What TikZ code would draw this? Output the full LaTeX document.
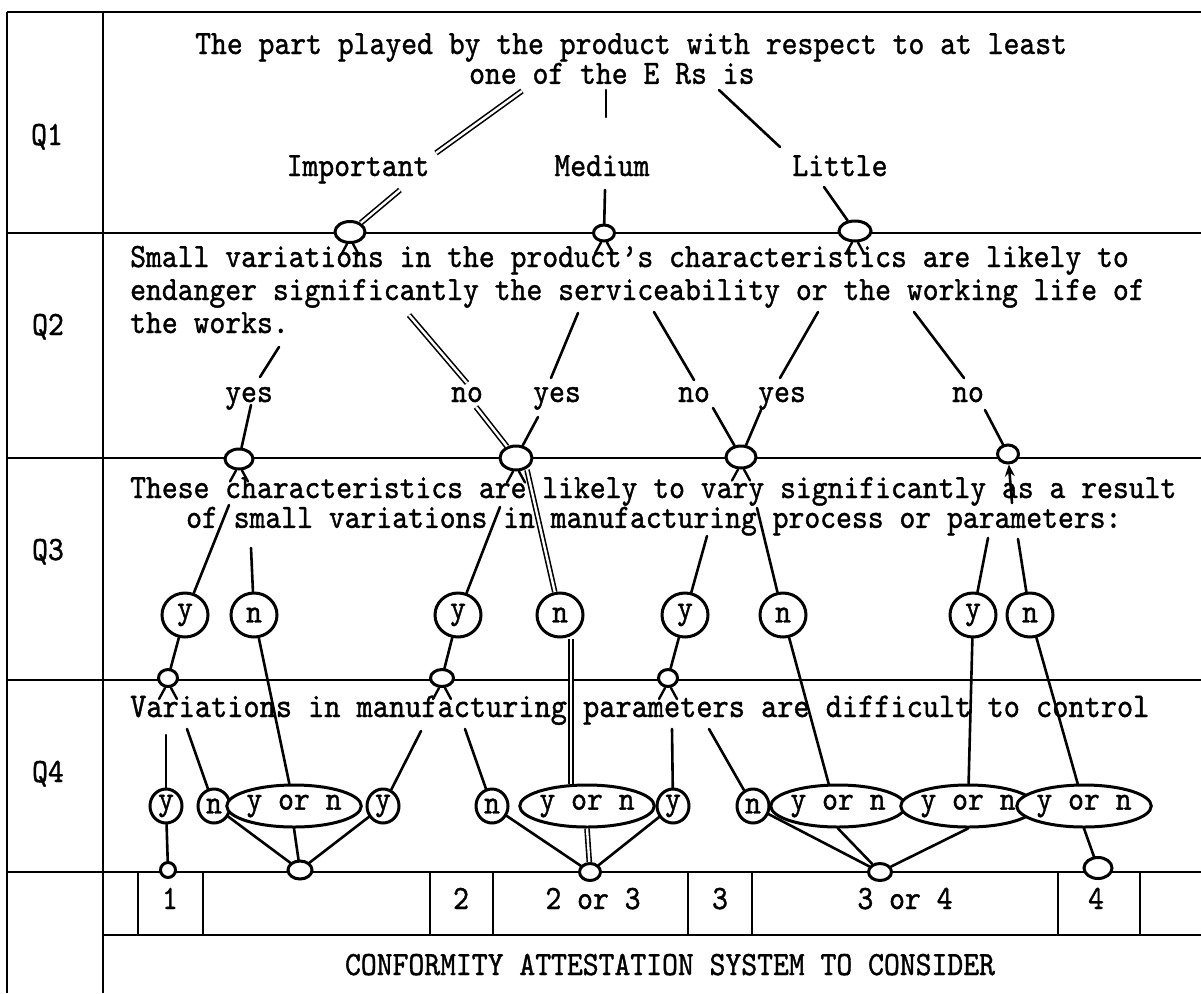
\documentclass[tikz,border=0pt]{standalone}
\usepackage{fontspec}
\usetikzlibrary{shapes.geometric,arrows.meta}
\newfontfamily\qtt{lmmono10-regular.otf}[FakeBold=1.1,FakeStretch=0.888]
\newcommand\qfont{\qtt\fontsize{34}{36}\selectfont}
\newcommand\qtightfont{\qtt\fontsize{34}{29.5}\selectfont}
\newcommand\qwfont{\qtt\fontsize{34.7}{36}\selectfont}
\begin{document}
\begin{tikzpicture}[x=1pt,y=-1pt,
  txt/.style={font=\qfont, inner sep=0pt},
  frame/.style={line width=2pt},
  cell/.style={line width=1.3pt},
  con/.style={line width=2.6pt, line cap=round},
  dbl/.style={double, double distance=2.4pt, line width=1.6pt},
  foot/.style={line width=2.4pt, line cap=round},
  jn/.style={ellipse, draw, line width=3pt, fill=white, inner sep=0pt},
  yn/.style={ellipse, draw, line width=3pt, fill=white, inner sep=0pt, minimum width=46pt, minimum height=44pt, font=\qfont},
  sm/.style={yn, minimum width=32pt, minimum height=34pt},
  ov/.style={yn, minimum height=42pt}
]
\useasboundingbox (0,0) rectangle (1201,993);
\fill[white] (0,0) rectangle (1201,993);

% ---------- frame ----------
\draw[frame, line width=2.6pt] (7,12) -- (1201,12);
\draw[frame] (7,12) -- (7,993);
\draw[frame] (103,12) -- (103,993);
\foreach \yy in {233,458,680,872} \draw[frame] (7,\yy) -- (1201,\yy);
\draw[frame] (103,935) -- (1201,935);
\foreach \xx in {138,203,430,493,688,752,1058,1140} \draw[cell] (\xx,872) -- (\xx,935);

% ---------- row labels ----------
\node[txt,anchor=base] (lq1) at (47,145) {Q1};
\node[txt,anchor=base] (lq2) at (48,335) {Q2};
\node[txt,anchor=base] (lq3) at (48,560) {Q3};
\node[txt,anchor=base] (lq4) at (48,782) {Q4};

% ---------- texts ----------
\node[txt,font=\qtightfont,anchor=base west] (t1) at (195,54)
  {\begin{tabular}[t]{@{}l@{}}The part played by the product with respect to at least\\
   \hspace*{274pt}one of the E Rs is\end{tabular}};
\node[txt,anchor=base] (imp) at (358,176) {Important};
\node[txt,anchor=base] (med) at (602,176) {Medium};
\node[txt,anchor=base] (lit) at (840,176) {Little};

\node[txt,anchor=base west] (t2a) at (130,267) {Small variations in the product’s characteristics are likely to};
\node[txt,anchor=base west] (t2b) at (130,300) {endanger significantly the serviceability or the working life of};
\node[txt,anchor=base west] (t2c) at (130,333) {the works.};
\node[txt,anchor=base] (ya) at (249,402) {yes};
\node[txt,anchor=base] (na) at (467,402) {no};
\node[txt,anchor=base] (yb) at (557,402) {yes};
\node[txt,anchor=base] (nb) at (694,402) {no};
\node[txt,anchor=base] (yc) at (782,402) {yes};
\node[txt,anchor=base] (nc) at (968,402) {no};

\node[txt,font=\qtightfont,anchor=base west] (t3) at (130,498)
  {\begin{tabular}[t]{@{}l@{}}These characteristics are likely to vary significantly as a result\\
   \hspace*{56pt}of small variations in manufacturing process or parameters:\end{tabular}};

\node[txt,font=\qwfont,anchor=base west] (t4) at (130,717) {Variations in manufacturing parameters are difficult to control};

% results row
\node[txt,anchor=base] (r1) at (170,909) {1};
\node[txt,anchor=base] (r2) at (461,909) {2};
\node[txt,anchor=base] (r23) at (593,909) {2 or 3};
\node[txt,anchor=base] (r3) at (720,909) {3};
\node[txt,anchor=base] (r34) at (905,909) {3 or 4};
\node[txt,anchor=base] (r4) at (1096,909) {4};
\node[txt,anchor=base] (conf) at (670,975) {CONFORMITY ATTESTATION SYSTEM TO CONSIDER};

% ---------- junctions ----------
\node[jn,minimum width=30pt,minimum height=21pt] (J1) at (350,232) {};
\node[jn,minimum width=21pt,minimum height=16pt] (J2) at (604,233) {};
\node[jn,minimum width=32pt,minimum height=20pt] (J3) at (855,231) {};
\node[jn,minimum width=28pt,minimum height=20pt] (K1) at (239,459) {};
\node[jn,minimum width=32pt,minimum height=24pt] (K2) at (516,458) {};
\node[jn,minimum width=30pt,minimum height=22pt] (K3) at (741,457) {};
\node[jn,minimum width=21pt,minimum height=18pt] (K4) at (1008,454) {};
\node[jn,minimum width=19pt,minimum height=17pt] (L1) at (168,678) {};
\node[jn,minimum width=23pt,minimum height=17pt] (L2) at (442,678) {};
\node[jn,minimum width=19pt,minimum height=17pt] (L3) at (668,678) {};
\node[jn,minimum width=15pt,minimum height=15pt] (M1) at (168,870) {};
\node[jn,minimum width=24pt,minimum height=18pt] (M2) at (300,870) {};
\node[jn,minimum width=21pt,minimum height=17pt] (M3) at (590,872) {};
\node[jn,minimum width=23pt,minimum height=17pt] (M4) at (880,872) {};
\node[jn,minimum width=28pt,minimum height=21pt] (M5) at (1098,868) {};

\foreach \j in {J1,J2,J3,K1,K2,K3,L1,L2,L3} {
  \draw[foot] ([xshift=-3pt]\j.south) -- ++(-6,11);
  \draw[foot] ([xshift=3pt]\j.south) -- ++(6,11);
}

% ---------- Q3 circles ----------
\node[yn] (y1) at (185,615) {y};
\node[yn] (n1) at (254,615) {n};
\node[yn] (y2) at (458,615) {y};
\node[yn] (n2) at (560,615) {n};
\node[yn] (y3) at (685,615) {y};
\node[yn] (n3) at (783,615) {n};
\node[yn] (y4) at (973,615) {y};
\node[yn] (n4) at (1030,615) {n};

% ---------- Q4 circles and ovals ----------
\node[sm] (qy1) at (166,806) {y};
\node[sm] (qn1) at (214,806) {n};
\node[ov,minimum width=106pt] (o1) at (294,806) {y or n};
\node[sm] (qy2) at (383,806) {y};
\node[sm] (qn2) at (492,806) {n};
\node[ov,minimum width=120pt] (o2) at (587,806) {y or n};
\node[sm] (qy3) at (673,806) {y};
\node[sm] (qn3) at (753,806) {n};
\node[ov,minimum width=117pt] (o3) at (838,806) {y or n};
\node[ov,minimum width=113pt] (o4) at (968,806) {y or n};
\node[ov,minimum width=108pt] (o5) at (1084,806) {y or n};

% ---------- connector end points ----------
\coordinate (a1) at (522,91);  \coordinate (a2) at (436,153); \coordinate (a3) at (400,190);
\coordinate (b1) at (606,90);  \coordinate (b2) at (606,117); \coordinate (b3) at (605,190);
\coordinate (c1) at (719,90);  \coordinate (c2) at (780,147); \coordinate (c3) at (824,187);
\coordinate (d1) at (279,347); \coordinate (d2) at (260,377); \coordinate (d3) at (251,405);
\coordinate (e1) at (409,315); \coordinate (e2) at (467,383); \coordinate (e3) at (476,407);
\coordinate (f1) at (578,313); \coordinate (f2) at (551,378); \coordinate (f3) at (538,417);
\coordinate (g1) at (654,312); \coordinate (g2) at (694,380); \coordinate (g3) at (713,408);
\coordinate (h1) at (818,312); \coordinate (h2) at (780,378); \coordinate (h3) at (761,410);
\coordinate (i1) at (914,312); \coordinate (i2) at (964,378); \coordinate (i3) at (985,410);
\coordinate (k1) at (229,505); \coordinate (k2) at (251,548); \coordinate (k3) at (500,507);
\coordinate (k4) at (527,470); \coordinate (k6) at (707,536); \coordinate (k7) at (757,508);
\coordinate (k8) at (1012,503); \coordinate (k9) at (988,538); \coordinate (k10) at (1018,539);
\coordinate (p1) at (166,735); \coordinate (p2) at (187,729); \coordinate (p3) at (421,731);
\coordinate (p4) at (465,729); \coordinate (p5) at (672,729); \coordinate (p6) at (709,729);
\coordinate (o3t) at (829,785);

% ---------- Q1 connectors ----------
\draw[dbl] (a1) -- (a2);
\draw[dbl] (a3) -- (J1);
\draw[con] (b1) -- (b2);
\draw[con] (b3) -- (J2);
\draw[con] (c1) -- (c2);
\draw[con] (c3) -- (J3);

% ---------- Q2 connectors ----------
\draw[con] (d1) -- (d2);  \draw[con] (d3) -- (K1);
\draw[dbl] (e1) -- (e2);  \draw[dbl] (e3) -- (K2);
\draw[con] (f1) -- (f2);  \draw[con] (f3) -- (K2);
\draw[con] (g1) -- (g2);  \draw[con] (g3) -- (K3);
\draw[con] (h1) -- (h2);  \draw[con] (h3) -- (K3);
\draw[con] (i1) -- (i2);  \draw[con] (i3) -- (K4);

% ---------- Q3 connectors ----------
\draw[con] (k1) -- (y1);
\draw[con] (k2) -- (n1);
\draw[con] (k3) -- (y2);
\draw[dbl] (k4) -- (n2);
\draw[con] (k6) -- (y3);
\draw[con] (k7) -- (n3);
\draw[con,-{Stealth[length=12pt,width=10pt]}] (k8) -- (K4);
\draw[con] (k9) -- (y4);
\draw[con] (k10) -- (n4);

% ---------- Q3 -> Q4 ----------
\draw[con] (y1) -- (L1);
\draw[con] (n1) -- (o1);
\draw[con] (y2) -- (L2);
\draw[dbl] ([xshift=11pt]n2.south) -- ([xshift=11pt]n2.south |- o2.north);
\draw[con] (y3) -- (L3);
\draw[con] (n3) -- (o3t);
\draw[con] (y4) -- (o4);
\draw[con] (n4) -- (o5);

% ---------- Q4 connectors ----------
\draw[con] (p1) -- (qy1);
\draw[con] (p2) -- (qn1);
\draw[con] (p3) -- (qy2);
\draw[con] (p4) -- (qn2);
\draw[con] (p5) -- (qy3);
\draw[con] (p6) -- (qn3);

\draw[con] (qy1) -- (M1);
\draw[con] (qn1) -- (M2);
\draw[con] (o1.south) -- (M2);
\draw[con] (qy2) -- (M2);
\draw[con] (qn2) -- (M3);
\draw[dbl] (o2.south) -- (M3);
\draw[con] (qy3) -- (M3);
\draw[con] (qn3) -- (M4);
\draw[con] (o3.south) -- (M4);
\draw[con] (o4.south) -- (M4);
\draw[con] (o5.south) -- (M5);
\end{tikzpicture}
\end{document}
